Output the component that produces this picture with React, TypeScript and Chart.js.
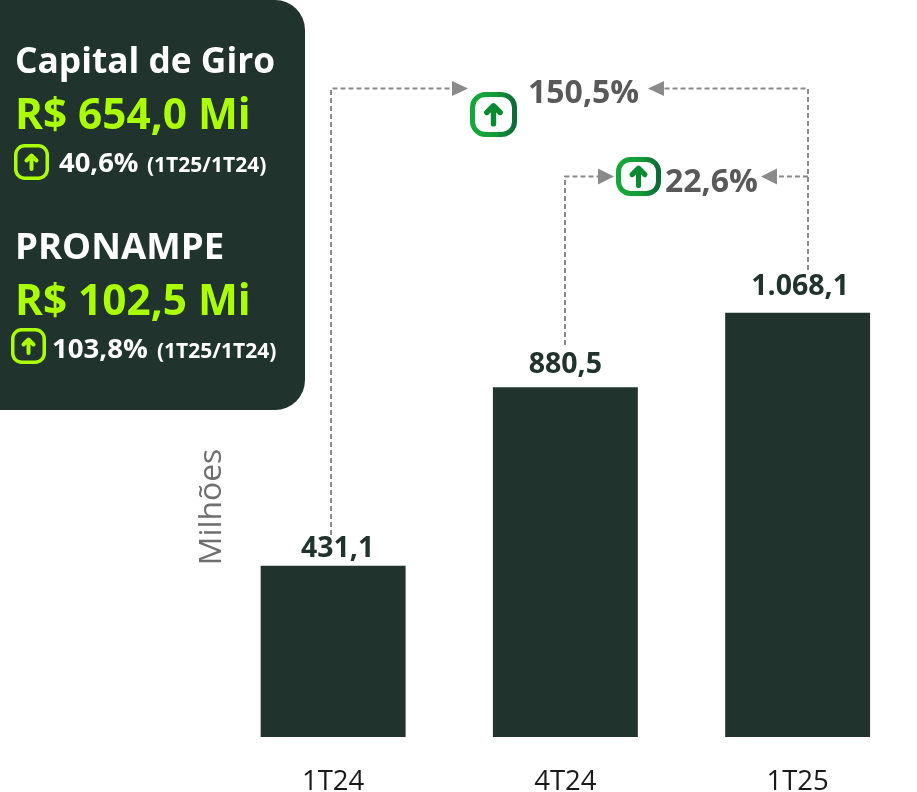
import React, { useEffect, useRef } from "react";
import { Chart, registerables } from "chart.js";

Chart.register(...registerables);

const categories = ["1T24", "4T24", "1T25"];
const values = [431.1, 880.5, 1068.1];
const valueLabels = ["431,1", "880,5", "1.068,1"];
const labelNudgeX = [4.5, 0, 2.5];
const labelGapY = [9, 14, 18];
const axisTitle = "Milhões";

const DARK = "#20332d";
const LIME = "#aaff00";
const GREY = "#595959";
const FONT = "'Open Sans', sans-serif";
const DASH_GREY = "#8a8a8a";

const valueLabelPlugin = {
  id: "valueLabels",
  afterDatasetsDraw(chart: any) {
    const { ctx } = chart;
    const meta = chart.getDatasetMeta(0);
    ctx.save();
    ctx.font = `700 28.5px ${FONT}`;
    ctx.fillStyle = DARK;
    ctx.textAlign = "center";
    ctx.textBaseline = "alphabetic";
    meta.data.forEach((bar: any, i: number) => {
      ctx.fillText(valueLabels[i], bar.x + labelNudgeX[i], bar.y - labelGapY[i]);
    });
    ctx.restore();
  },
};

function UpIcon({ x, y, w, h, stroke, r, color, arrow }: any) {
  const cx = x + w / 2;
  const cy = y + h / 2;
  const s = w / 35;
  return (
    <g>
      <rect x={x + stroke / 2} y={y + stroke / 2} width={w - stroke} height={h - stroke} rx={r} ry={r} fill="none" stroke={color} strokeWidth={stroke} />
      <path
        d={`M${cx} ${cy + 7 * s}V${cy - 6 * s}M${cx - 5 * s} ${cy - 1.5 * s}L${cx} ${cy - 6.5 * s}L${cx + 5 * s} ${cy - 1.5 * s}`}
        fill="none"
        stroke={arrow}
        strokeWidth={4 * s}
        strokeLinecap="round"
        strokeLinejoin="round"
      />
    </g>
  );
}

function Dash({ d }: { d: string }) {
  return <path d={d} fill="none" stroke={DASH_GREY} strokeWidth={2} strokeDasharray="5 3" />;
}

export default function App() {
  const ref = useRef<HTMLCanvasElement>(null);

  useEffect(() => {
    document.body.style.margin = "0";
    const chart = new Chart(ref.current!, {
      type: "bar",
      data: {
        labels: categories,
        datasets: [{ data: values, backgroundColor: DARK, categoryPercentage: 1, barPercentage: 0.624 }],
      },
      plugins: [valueLabelPlugin],
      options: {
        animation: false,
        responsive: false,
        layout: { padding: { left: 207, right: 3.25, top: 277, bottom: 0 } },
        plugins: { legend: { display: false }, tooltip: { enabled: false } },
        scales: {
          x: {
            grid: { display: false, drawTicks: false },
            border: { display: false },
            ticks: { color: "#1a1a1a", padding: 29, maxRotation: 0, font: { family: FONT, size: 27.5 } },
            afterFit(scale: any) {
              scale.height = 55;
            },
          },
          y: {
            min: 0,
            max: 1158,
            grid: { display: false, drawTicks: false },
            border: { display: false },
            ticks: { display: false },
            title: {
              display: true,
              text: axisTitle,
              color: "#6f6f6f",
              padding: 0,
              font: { family: FONT, size: 31.8, lineHeight: "10px" },
            },
          },
        },
      },
    } as any);
    return () => chart.destroy();
  }, []);

  return (
    <div style={{ position: "relative", width: 917, height: 792, overflow: "hidden", background: "#fff" }}>
      <canvas ref={ref} width={917} height={792} style={{ position: "absolute", left: 0, top: 0, width: 917, height: 792 }} />
      <svg width={917} height={792} style={{ position: "absolute", left: 0, top: 0 }} fontFamily={FONT}>
        <defs>
          <linearGradient id="g1" x1="0" x2="1" y1="0" y2="0">
            <stop offset="0" stopColor="#14a838" />
            <stop offset="0.55" stopColor="#129c38" />
            <stop offset="1" stopColor="#0b6a36" />
          </linearGradient>
        </defs>
        <path d="M0 0H275A30 30 0 0 1 305 30V380A30 30 0 0 1 275 410H0Z" fill={DARK} />

        <text x={15} y={73} fontSize={35.3} fontWeight={700} fill="#fff">Capital de Giro</text>
        <text x={15} y={129} fontSize={42.3} fontWeight={700} fill={LIME}>R$ 654,0 Mi</text>
        <UpIcon x={14} y={144} w={35} h={36} stroke={3.5} r={9} color={LIME} arrow={LIME} />
        <text x={59} y={172} fontSize={27.4} fontWeight={700} fill="#fff">40,6%</text>
        <text x={147} y={172} fontSize={21} fontWeight={700} fill="#fff">(1T25/1T24)</text>

        <text x={15} y={259} fontSize={36.6} fontWeight={700} fill="#fff">PRONAMPE</text>
        <text x={15} y={315} fontSize={42.3} fontWeight={700} fill={LIME}>R$ 102,5 Mi</text>
        <UpIcon x={11} y={328} w={35} h={36} stroke={3.5} r={9} color={LIME} arrow={LIME} />
        <text x={52} y={358} fontSize={27.6} fontWeight={700} fill="#fff">103,8%</text>
        <text x={157} y={358} fontSize={21} fontWeight={700} fill="#fff">(1T25/1T24)</text>

        <Dash d="M331 535V88.5H453" />
        <path d="M452 81L468 88.5L452 96Z" fill={DASH_GREY} />
        <Dash d="M808 270V88.5H663" />
        <path d="M664 81L648 88.5L664 96Z" fill={DASH_GREY} />
        <Dash d="M565 345V176.5H599" />
        <path d="M598 168.5L614 176.5L598 184.5Z" fill={DASH_GREY} />
        <Dash d="M808 176.5H776" />
        <path d="M777 168.5L761 176.5L777 184.5Z" fill={DASH_GREY} />

        <UpIcon x={470} y={92} w={47} h={45} stroke={5} r={13} color="url(#g1)" arrow="#0a8a30" />
        <UpIcon x={616} y={157} w={45} h={39} stroke={5} r={12} color="url(#g1)" arrow="#0a8a30" />
        <text x={528} y={103} fontSize={32} fontWeight={700} fill={GREY}>150,5%</text>
        <text x={665} y={192} fontSize={32} fontWeight={700} fill={GREY}>22,6%</text>
      </svg>
    </div>
  );
}
